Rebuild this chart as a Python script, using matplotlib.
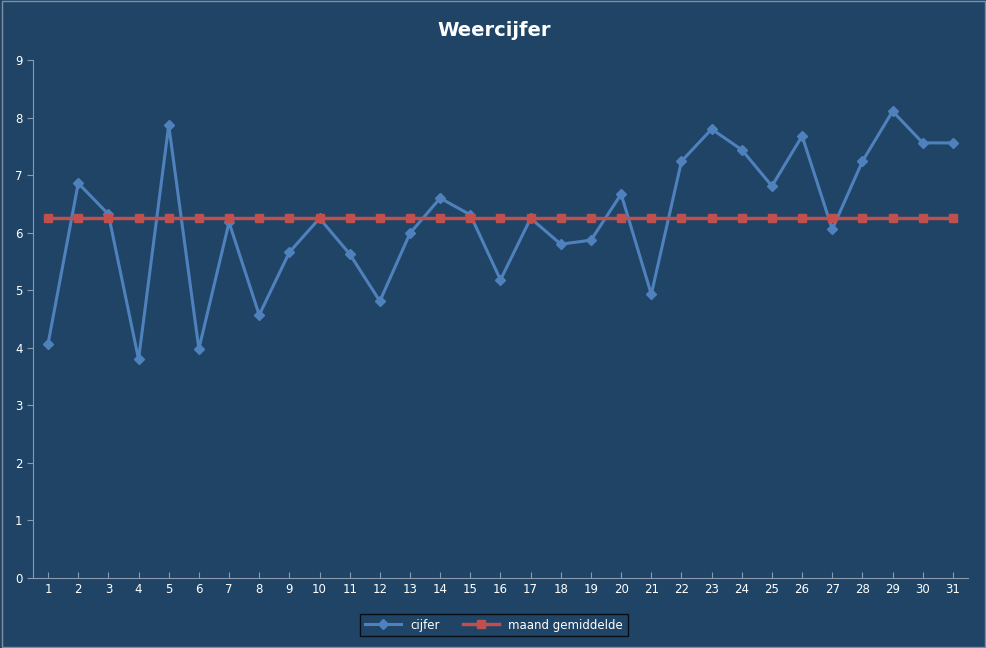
import matplotlib.pyplot as plt

days = list(range(1, 32))
cijfer = [4.07, 6.86, 6.32, 3.80, 7.87, 3.98, 6.18, 4.57, 5.66, 6.25,
          5.63, 4.81, 5.99, 6.60, 6.31, 5.18, 6.25, 5.80, 5.87, 6.67,
          4.93, 7.24, 7.80, 7.44, 6.81, 7.68, 6.06, 7.24, 8.11, 7.56, 7.56]
gemiddelde = [6.25] * 31

BG = "#1F4466"
fig = plt.figure(figsize=(9.87, 6.48), dpi=100, facecolor=BG)
ax = fig.add_axes([33 / 987, 1 - 578 / 648, 935 / 987, 518 / 648], facecolor=BG)

ax.plot(days, cijfer, color="#4F81BD", lw=2.2, marker="D", ms=5, label="cijfer")
ax.plot(days, gemiddelde, color="#C0504D", lw=2.5, marker="s", ms=6,
        label="maand gemiddelde")

ax.set_xlim(0.5, 31.5)
ax.set_ylim(0, 9)
ax.set_xticks(days)
ax.set_yticks(range(10))
for s in ["top", "right"]:
    ax.spines[s].set_visible(False)
for s in ["left", "bottom"]:
    ax.spines[s].set_color("#8A9BB0")
ax.tick_params(colors="white", labelsize=8.5, length=4)
ax.tick_params(axis="x", direction="in", color="#8A9BB0")
ax.tick_params(axis="y", direction="out", color="#8A9BB0")

fig.text(494 / 987, 1 - 31 / 648, "Weercijfer", color="white", fontsize=14,
         fontweight="bold", ha="center", va="center")

fig.legend(loc="center", bbox_to_anchor=(494 / 987, 1 - 625 / 648), ncol=2,
           fontsize=8.5, facecolor=BG, edgecolor="black", fancybox=False,
           labelcolor="white", handlelength=3, borderpad=0.4)
fig.patches.append(plt.Rectangle((0.002, 0.002), 0.996, 0.996, transform=fig.transFigure,
                                 fill=False, edgecolor="#7F8FA0", lw=1))
fig.savefig("out.png", dpi=100, facecolor=BG)
